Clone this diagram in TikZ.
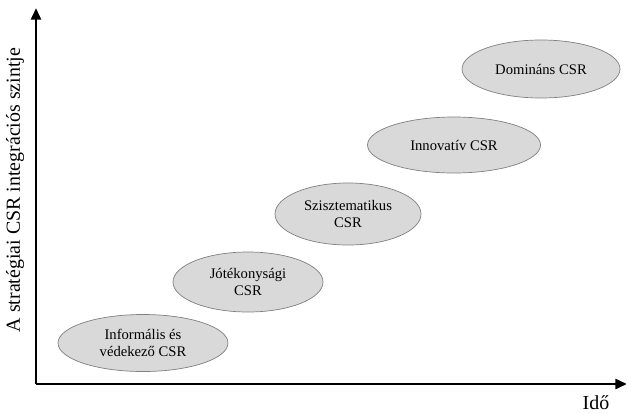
\documentclass[tikz,border=0pt]{standalone}
\usepackage{fontspec}
\setmainfont{Liberation Serif}
\usetikzlibrary{arrows.meta,shapes.geometric}
\definecolor{stagefill}{RGB}{217,217,217}
\definecolor{stageline}{RGB}{128,128,128}
\newlength\px
\setlength\px{0.03cm}
\tikzset{
  stage/.style={ellipse,draw=stageline,fill=stagefill,line width=0.6pt,
    inner sep=0pt,align=center,font=\fontsize{12.5}{14}\selectfont},
  axis/.style={line width=2.4pt,-{Triangle[length=10pt,width=8.5pt]}},
  axislabel/.style={font=\fontsize{17}{18}\selectfont,text=black}
}
\begin{document}
\begin{tikzpicture}[x=0.03cm,y=-0.03cm]
\useasboundingbox (0,0) rectangle (626,413);

% axes
\coordinate (origin) at (36,384);
\coordinate (ytop) at (36,8);
\coordinate (xend) at (627,384);
\draw[axis] (origin) -- (ytop);
\draw[axis] (origin) -- (xend);
\node[axislabel,rotate=90] (ylab) at (15,190) {A stratégiai CSR integrációs szintje};
\node[axislabel] (xlab) at (596,403) {Idő};

% stages
\node[stage,minimum width=170\px,minimum height=57\px] (informal) at (143,343) {Informális és\\védekező CSR};
\node[stage,minimum width=150\px,minimum height=60\px] (charity) at (248,282) {Jótékonysági\\CSR};
\node[stage,minimum width=146\px,minimum height=62\px] (system) at (348,214) {Szisztematikus\\CSR};
\node[stage,minimum width=173\px,minimum height=56\px] (innov) at (454,145) {Innovatív CSR};
\node[stage,minimum width=158\px,minimum height=58\px] (domin) at (541,69) {Domináns CSR};
\end{tikzpicture}
\end{document}
